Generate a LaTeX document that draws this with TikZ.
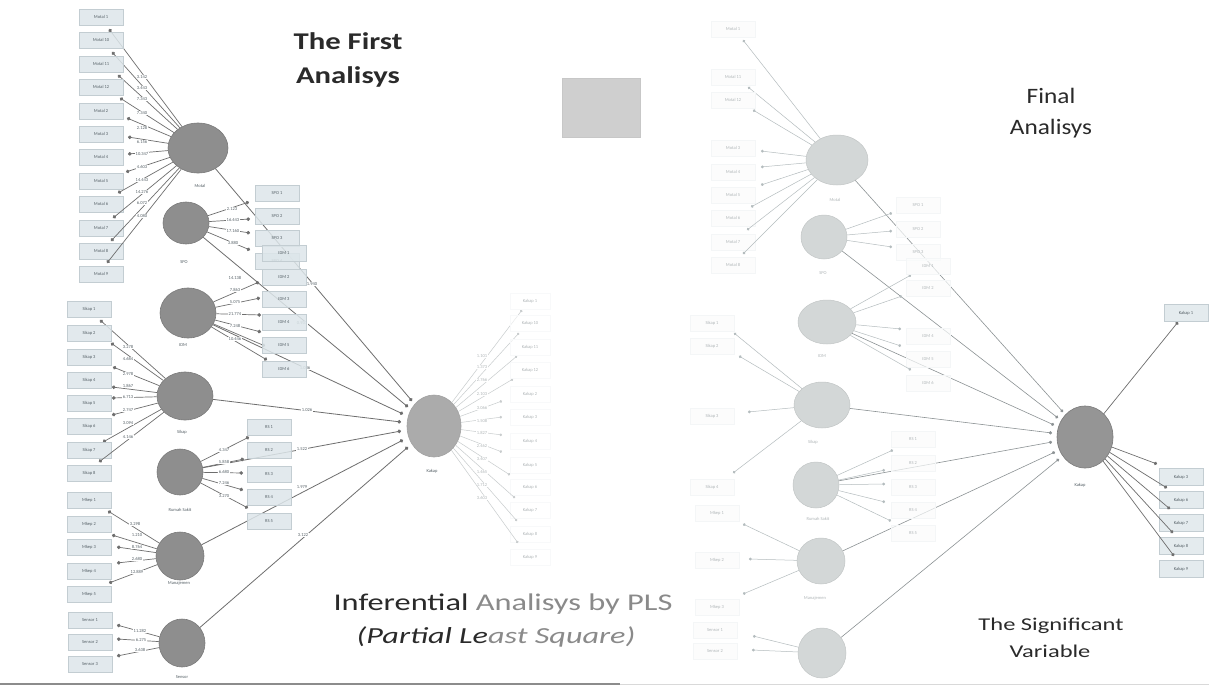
\documentclass[tikz,border=0pt]{standalone}
\usepackage{fontspec}
\setmainfont{Carlito}
\usetikzlibrary{shapes.geometric,arrows.meta}
\definecolor{cLvL}{HTML}{8E8E8E}
\definecolor{cLvLd}{HTML}{7A7A7A}
\definecolor{cKL}{HTML}{ABABAB}
\definecolor{cLvR}{HTML}{D3D7D7}
\definecolor{cLvRd}{HTML}{C2C6C6}
\definecolor{cKR}{HTML}{959595}
\definecolor{cBoxF}{HTML}{DDE6EA}
\definecolor{cBoxD}{HTML}{C3CDD2}
\definecolor{cBoxT}{HTML}{556066}
\definecolor{cLineL}{HTML}{6E6E6E}
\definecolor{cLineR}{HTML}{B4BCBE}
\definecolor{cLineRK}{HTML}{8C9294}
\definecolor{cFaint}{HTML}{B0B6B8}
\definecolor{cTitle}{HTML}{2A2A2A}
\definecolor{cSoft}{HTML}{8A8A8A}
\begin{document}
\begin{tikzpicture}[x=1pt,y=-1pt,
  tiny/.style={font=\fontsize{4.5}{5}\selectfont},
  lvl/.style={ellipse,fill=cLvL,draw=cLvLd,line width=0.6,inner sep=0},
  lvk/.style={ellipse,fill=cKL,draw=cLvLd!70,line width=0.6,inner sep=0},
  lvr/.style={ellipse,fill=cLvR,draw=cLvRd,line width=0.5,inner sep=0},
  lvrk/.style={ellipse,fill=cKR,draw=cLvLd,line width=0.6,inner sep=0},
  lvlab/.style={tiny,text=cBoxT},
  lvlabr/.style={tiny,text=cFaint},
  lbox/.style={rectangle,draw=cBoxD,fill=cBoxF,fill opacity=0.85,text opacity=1,line width=0.4,minimum width=44,minimum height=16,inner sep=0,tiny,text=cBoxT},
  kbox/.style={rectangle,draw=cBoxD!12,fill=white,fill opacity=0.6,text opacity=1,line width=0.3,minimum width=40,minimum height=16,inner sep=0,tiny,text=cFaint},
  rbox/.style={rectangle,draw=cBoxD!18,fill=cBoxF!12,fill opacity=0.7,text opacity=1,line width=0.3,minimum width=44,minimum height=16,inner sep=0,tiny,text=cFaint},
  rkbox/.style={rectangle,draw=cBoxD,fill=cBoxF!80,line width=0.4,minimum width=44,minimum height=17,inner sep=0,tiny,text=cBoxT},
  lind/.style={draw=cLineL,line width=0.7,-{Circle[length=3.6pt]}},
  kind/.style={draw=cFaint!70,line width=0.5,-{Circle[length=2.6pt]}},
  lpath/.style={draw=cLineL,line width=0.8,-{Circle[length=3.6pt]}},
  rind/.style={draw=cLineR,line width=0.5,-{Circle[length=2.8pt]}},
  rpath/.style={draw=cLineRK,line width=0.6,-{Circle[length=3.2pt]}},
  rkind/.style={draw=cLineL,line width=0.7,-{Circle[length=3.4pt]}},
  load/.style={tiny,fill=white,inner sep=0.6,text=cBoxT},
  loadk/.style={tiny,fill=white,inner sep=0.6,text=cFaint}]
\useasboundingbox (0,0) rectangle (1209,688);
\fill[white] (0,0) rectangle (1209,688);

% ---------- titles ----------
\node[font=\fontsize{24}{28}\selectfont\bfseries,text=cTitle] (t1) at (348,41) {\scalebox{1.28}[1]{The First}};
\node[font=\fontsize{24}{28}\selectfont\bfseries,text=cTitle] (t2) at (348,77) {\scalebox{1.28}[1]{Analisys}};
\node[draw=black!22,fill=black!19,minimum width=78,minimum height=59,inner sep=0] (sq) at (601,107.5) {};
\node[font=\fontsize{22}{26}\selectfont,text=cTitle] (t3) at (1051,96) {\scalebox{1.15}[1]{Final}};
\node[font=\fontsize{22}{26}\selectfont,text=cTitle] (t4) at (1051,129) {\scalebox{1.15}[1]{Analisys}};
\node[font=\fontsize{24}{28}\selectfont,text=cTitle] (t5) at (503,604) {\scalebox{1.35}[1]{Inferential \textcolor{cSoft}{Analisys by PLS}}};
\node[font=\fontsize{23}{27}\selectfont\itshape,text=cTitle] (t6) at (496,637) {\scalebox{1.4}[1]{(Partial Le\textcolor{cSoft}{ast Square)}}};
\node[font=\fontsize{18}{21}\selectfont,text=cTitle] (t7) at (1051,626) {\scalebox{1.36}[1]{The Significant}};
\node[font=\fontsize{18}{21}\selectfont,text=cTitle] (t8) at (1050,651) {\scalebox{1.36}[1]{Variable}};
\draw[black!45,line width=1.4] (0,684) -- (620,684);
\draw[black!15,line width=1] (620,684) -- (1209,684);

% ================= LEFT: FIRST ANALYSIS =================
\node[lvl,minimum width=60,minimum height=50] (LM) at (198,148) {};
\node[lvlab] (LMl) at (200,186) {Motal};
\node[lvl,minimum width=46,minimum height=42] (LS) at (186,223) {};
\node[lvlab] (LSl) at (184,262) {SPO};
\node[lvl,minimum width=56,minimum height=50] (LI) at (188,313) {};
\node[lvlab] (LIl) at (183,345) {IDM};
\node[lvl,minimum width=56,minimum height=48] (LK) at (185,396) {};
\node[lvlab] (LKl) at (182,432) {Sikap};
\node[lvl,minimum width=46,minimum height=46] (LR) at (180,472) {};
\node[lvlab] (LRl) at (180,510) {Rumah Sakit};
\node[lvl,minimum width=48,minimum height=48] (LN) at (180,556) {};
\node[lvlab] (LNl) at (179,583) {Manajemen};
\node[lvl,minimum width=46,minimum height=48] (LE) at (182,643) {};
\node[lvlab] (LEl) at (182,677) {Sensor};
\node[lvk,minimum width=54,minimum height=62] (LY) at (434,426) {};
\node[lvlab] (LYl) at (432,471) {Kakap};

% path lines to Kakap
\coordinate (LY1) at (412,401);
\coordinate (LY2) at (408,407);
\coordinate (LY3) at (403,414);
\coordinate (LY4) at (401,422);
\coordinate (LY5) at (401,431);
\coordinate (LY6) at (403,440);
\coordinate (LY7) at (408,447);
\draw[lpath] (LM) -- (LY1);
\draw[lpath] (LS) -- (LY2);
\draw[lpath] (LI) -- (LY3);
\draw[lpath] (LK) -- (LY4);
\draw[lpath] (LR) -- (LY5);
\draw[lpath] (LN) -- (LY6);
\draw[lpath] (LE) -- (LY7);
\node[load] (pl1) at (312,284) {1.940};
\node[load] (pl2) at (302,323) {0.931};
\node[load] (pl3) at (305,368) {1.036};
\node[load] (pl4) at (307,410) {1.026};
\node[load] (pl5) at (302,449) {1.522};
\node[load] (pl6) at (302,487) {1.979};
\node[load] (pl7) at (303,535) {3.122};

% Motal indicators
\foreach \i/\lab/\y/\dx/\dy/\val/\ly in {
 1/Motal 1/17/109/29/3.142/77, 2/Motal 10/40/112/52/3.443/88,
 3/Motal 11/64/118/75/7.343/99, 4/Motal 12/87/120/98/7.340/113,
 5/Motal 2/111/127/118/2.128/128, 6/Motal 3/134/128/137/6.156/142,
 7/Motal 4/157/128/154/10.347/154, 8/Motal 5/181/126/172/4.603/167,
 9/Motal 6/204/118/193/14.443/180, 10/Motal 7/228/113/218/14.276/192,
 11/Motal 8/251/111/241/6.072/203, 12/Motal 9/274/107/263/4.080/216}{
 \coordinate (LMd\i) at (\dx,\dy);
 \draw[lind] (LM) -- (LMd\i);
 \node[load] (LMv\i) at (142,\ly) {\val};
 \node[lbox] (LMb\i) at (101,\y) {\lab};
}
% SPO indicators
\foreach \i/\y/\dx/\dy/\val/\lx/\ly in {
 1/193/249/202/2.123/232/209, 2/216/250/219/16.443/233/220,
 3/238/250/233/17.160/233/231, 4/261/250/250/3.880/233/243}{
 \coordinate (LSd\i) at (\dx,\dy);
 \draw[lind] (LS) -- (LSd\i);
 \node[load] (LSv\i) at (\lx,\ly) {\val};
 \node[lbox] (LSb\i) at (277,\y) {SPO \i};
}
% IDM indicators
\foreach \i/\y/\dx/\dy/\val/\ly in {
 1/253/259/282/14.138/278, 2/277/260/298/7.863/290,
 3/299/261/315/5.075/302, 4/322/261/332/21.774/314,
 5/345/265/346/7.248/326, 6/369/267/360/10.446/339}{
 \coordinate (LId\i) at (\dx,\dy);
 \draw[lind] (LI) -- (LId\i);
 \node[load] (LIv\i) at (235,\ly) {\val};
 \node[lbox] (LIb\i) at (284,\y) {IDM \i};
}
% Sikap indicators
\foreach \i/\y/\dx/\dy/\val/\ly in {
 1/309/100/320/3.278/347, 2/333/111/343/4.684/359,
 3/357/113/367/2.978/374, 4/380/112/387/1.867/386,
 5/403/112/398/6.713/397, 6/426/112/415/2.747/410,
 7/450/103/442/3.094/423, 8/473/99/462/4.146/437}{
 \coordinate (LKd\i) at (\dx,\dy);
 \draw[lind] (LK) -- (LKd\i);
 \node[load] (LKv\i) at (128,\ly) {\val};
 \node[lbox] (LKb\i) at (89,\y) {Sikap \i};
}
% RS indicators
\foreach \i/\y/\dx/\dy/\val/\ly in {
 1/427/249/437/4.347/450, 2/450/244/459/5.858/462,
 3/474/243/473/6.680/472, 4/497/243/490/7.246/483,
 5/521/248/508/3.270/496}{
 \coordinate (LRd\i) at (\dx,\dy);
 \draw[lind] (LR) -- (LRd\i);
 \node[load] (LRv\i) at (224,\ly) {\val};
 \node[lbox] (LRb\i) at (269,\y) {RS \i};
}
% Manajemen indicators
\foreach \i/\y/\dx/\dy/\val/\lx/\ly in {
 1/500/108/511/3.298/135/524, 2/524/112/535/1.210/137/535,
 3/547/117/547/8.764/137/547, 4/571/117/563/2.680/137/559,
 5/594/109/583/12.889/137/572}{
 \coordinate (LNd\i) at (\dx,\dy);
 \draw[lind] (LN) -- (LNd\i);
 \node[load] (LNv\i) at (\lx,\ly) {\val};
 \node[lbox] (LNb\i) at (89,\y) {Mkep \i};
}
% Sensor indicators
\foreach \i/\y/\dx/\dy/\val/\lx/\ly in {
 1/620/117/625/11.282/140/631, 2/642/117/639/6.275/141/640,
 3/664/117/656/3.638/140/650}{
 \coordinate (LEd\i) at (\dx,\dy);
 \draw[lind] (LE) -- (LEd\i);
 \node[load] (LEv\i) at (\lx,\ly) {\val};
 \node[lbox] (LEb\i) at (90,\y) {Sensor \i};
}
% Kakap indicators (faint)
\foreach \i/\lab/\y/\dx/\dy/\val/\ly in {
 1/Kakap 1/301/522/310/1.101/356, 2/Kakap 10/323/519/333/1.373/367,
 3/Kakap 11/347/517/356/2.766/380, 4/Kakap 12/370/513/379/2.103/394,
 5/Kakap 2/394/502/401/3.066/408, 6/Kakap 3/417/502/417/1.508/421,
 7/Kakap 4/441/502/435/1.827/433, 8/Kakap 5/465/502/452/2.462/446,
 9/Kakap 6/487/510/475/3.407/459, 10/Kakap 7/510/515/498/1.465/472,
 11/Kakap 8/534/517/521/1.712/485, 12/Kakap 9/557/518/543/3.603/498}{
 \coordinate (LYd\i) at (\dx,\dy);
 \draw[kind] (LY) -- (LYd\i);
 \node[loadk] (LYv\i) at (482,\ly) {\val};
 \node[kbox] (LYb\i) at (530,\y) {\lab};
}

% ================= RIGHT: FINAL ANALYSIS =================
\node[lvr,minimum width=62,minimum height=50] (RM) at (837,160) {};
\node[lvlabr] (RMl) at (835,200) {Motal};
\node[lvr,minimum width=46,minimum height=44] (RS) at (824,237) {};
\node[lvlabr] (RSl) at (823,273) {SPO};
\node[lvr,minimum width=58,minimum height=44] (RI) at (827,322) {};
\node[lvlabr] (RIl) at (822,356) {IDM};
\node[lvr,minimum width=56,minimum height=46] (RK) at (822,405) {};
\node[lvlabr] (RKl) at (813,442) {Sikap};
\node[lvr,minimum width=46,minimum height=46] (RR) at (816,485) {};
\node[lvlabr] (RRl) at (818,519) {Rumah Sakit};
\node[lvr,minimum width=48,minimum height=46] (RN) at (821,561) {};
\node[lvlabr] (RNl) at (815,598) {Manajemen};
\node[lvr,minimum width=48,minimum height=50] (RE) at (822,653) {};
\node[lvrk,minimum width=56,minimum height=62] (RY) at (1085,437) {};
\node[lvlab] (RYl) at (1080,485) {Kakap};

\coordinate (RY1) at (1063,412);
\coordinate (RY2) at (1058,418);
\coordinate (RY3) at (1054,425);
\coordinate (RY4) at (1052,433);
\coordinate (RY5) at (1052,442);
\coordinate (RY6) at (1055,452);
\coordinate (RY7) at (1059,459);
\draw[rpath] (RM) -- (RY1);
\draw[rpath] (RS) -- (RY2);
\draw[rpath] (RI) -- (RY3);
\draw[rpath] (RK) -- (RY4);
\draw[rpath] (RR) -- (RY5);
\draw[rpath] (RN) -- (RY6);
\draw[rpath] (RE) -- (RY7);

\foreach \i/\lab/\y/\dx/\dy in {
 1/Motal 1/29/743/40, 2/Motal 11/77/748/87, 3/Motal 12/100/753/110,
 4/Motal 3/148/761/151, 5/Motal 4/172/761/167, 6/Motal 5/195/761/185,
 7/Motal 6/218/751/207, 8/Motal 7/242/747/230, 9/Motal 8/265/743/254}{
 \coordinate (RMd\i) at (\dx,\dy);
 \draw[rind] (RM) -- (RMd\i);
 \node[rbox] (RMb\i) at (733,\y) {\lab};
}
\foreach \i/\y/\dx/\dy in {1/205/892/213, 2/229/892/231, 3/252/892/247}{
 \coordinate (RSd\i) at (\dx,\dy);
 \draw[rind] (RS) -- (RSd\i);
 \node[rbox] (RSb\i) at (918,\y) {SPO \i};
}
\foreach \i/\lab/\y/\dx/\dy in {
 1/IDM 1/266/911/275, 2/IDM 2/288/902/296, 3/IDM 4/336/901/329,
 4/IDM 5/359/901/346, 5/IDM 6/383/911/370}{
 \coordinate (RId\i) at (\dx,\dy);
 \draw[rind] (RI) -- (RId\i);
 \node[rbox] (RIb\i) at (928,\y) {\lab};
}
\foreach \i/\lab/\y/\dx/\dy in {
 1/Sikap 1/323/734/333, 2/Sikap 2/346/739/356,
 3/Sikap 3/416/748/412, 4/Sikap 4/487/733/473}{
 \coordinate (RKd\i) at (\dx,\dy);
 \draw[rind] (RK) -- (RKd\i);
 \node[rbox] (RKb\i) at (712,\y) {\lab};
}
\foreach \i/\y/\dx/\dy in {
 1/439/893/450, 2/463/885/470, 3/487/885/484, 4/510/885/502, 5/533/891/521}{
 \coordinate (RRd\i) at (\dx,\dy);
 \draw[rind] (RR) -- (RRd\i);
 \node[rbox] (RRb\i) at (913,\y) {RS \i};
}
\foreach \i/\y/\dx/\dy in {1/513/743/524, 2/560/749/559, 3/607/743/594}{
 \coordinate (RNd\i) at (\dx,\dy);
 \draw[rind] (RN) -- (RNd\i);
 \node[rbox] (RNb\i) at (717,\y) {Mkep \i};
}
\foreach \i/\y/\dx/\dy in {1/630/753/636, 2/651/752/650}{
 \coordinate (REd\i) at (\dx,\dy);
 \draw[rind] (RE) -- (REd\i);
 \node[rbox] (REb\i) at (715,\y) {Sensor \i};
}
\foreach \i/\lab/\bx/\y/\dx/\dy in {
 1/Kakap 1/1186/313/1178/322, 2/Kakap 3/1181/477/1157/464,
 3/Kakap 6/1181/500/1167/488, 4/Kakap 7/1181/523/1170/509,
 5/Kakap 8/1181/546/1173/533, 6/Kakap 9/1181/569/1174/556}{
 \coordinate (RYd\i) at (\dx,\dy);
 \draw[rkind] (RY) -- (RYd\i);
 \node[rkbox] (RYb\i) at (\bx,\y) {\lab};
}
\end{tikzpicture}
\end{document}
